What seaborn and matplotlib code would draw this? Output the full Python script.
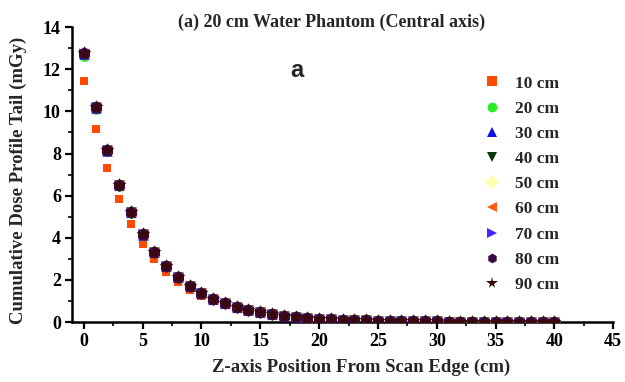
import matplotlib
matplotlib.use("Agg")
import matplotlib.pyplot as plt
import seaborn as sns
import pandas as pd
from matplotlib.ticker import MultipleLocator
from matplotlib.lines import Line2D

sns.set_style("ticks")
plt.rcParams['font.family'] = ['Liberation Serif', 'DejaVu Serif']
plt.rcParams['font.weight'] = 'bold'

z_pos = list(range(0, 41))

dose_10 = [11.45, 9.15, 7.30, 5.85, 4.65, 3.72, 2.97, 2.37, 1.90, 1.52, 1.22, 0.98, 0.79, 0.64,
           0.52, 0.42, 0.34, 0.28, 0.23, 0.19, 0.16, 0.13, 0.11, 0.09, 0.08, 0.07, 0.06, 0.05,
           0.045, 0.04, 0.035, 0.03, 0.028, 0.025, 0.022, 0.02, 0.018, 0.016, 0.015, 0.013, 0.012]
dose_20 = [12.65, 10.12, 8.10, 6.48, 5.18, 4.14, 3.31, 2.65, 2.12, 1.70, 1.36, 1.09, 0.88, 0.71,
           0.57, 0.46, 0.37, 0.30, 0.24, 0.20, 0.16, 0.13, 0.11, 0.09, 0.075, 0.063, 0.053, 0.045,
           0.038, 0.032, 0.027, 0.023, 0.020, 0.017, 0.015, 0.013, 0.011, 0.010, 0.009, 0.008, 0.007]
dose_30 = [12.72, 10.18, 8.14, 6.50, 5.20, 4.15, 3.32, 2.66, 2.12, 1.70, 1.36, 1.09, 0.88, 0.71,
           0.57, 0.46, 0.37, 0.30, 0.24, 0.20, 0.16, 0.13, 0.11, 0.09, 0.075, 0.063, 0.053, 0.045,
           0.038, 0.032, 0.027, 0.023, 0.020, 0.017, 0.015, 0.013, 0.011, 0.010, 0.009, 0.008, 0.007]
dose_40 = [12.74, 10.19, 8.15, 6.51, 5.20, 4.16, 3.32, 2.66, 2.13, 1.70, 1.36, 1.09, 0.88, 0.71,
           0.57, 0.46, 0.37, 0.30, 0.24, 0.20, 0.16, 0.13, 0.11, 0.09, 0.075, 0.063, 0.053, 0.045,
           0.038, 0.032, 0.027, 0.023, 0.020, 0.017, 0.015, 0.013, 0.011, 0.010, 0.009, 0.008, 0.007]
dose_50 = [12.75, 10.20, 8.15, 6.51, 5.21, 4.16, 3.33, 2.66, 2.13, 1.70, 1.37, 1.09, 0.88, 0.71,
           0.57, 0.46, 0.37, 0.30, 0.24, 0.20, 0.16, 0.13, 0.11, 0.09, 0.075, 0.063, 0.053, 0.045,
           0.038, 0.032, 0.027, 0.023, 0.020, 0.017, 0.015, 0.013, 0.011, 0.010, 0.009, 0.008, 0.007]
dose_60 = [12.76, 10.20, 8.16, 6.52, 5.21, 4.16, 3.33, 2.66, 2.13, 1.71, 1.37, 1.09, 0.88, 0.71,
           0.57, 0.46, 0.37, 0.30, 0.24, 0.20, 0.16, 0.13, 0.11, 0.09, 0.075, 0.063, 0.053, 0.045,
           0.038, 0.032, 0.027, 0.023, 0.020, 0.017, 0.015, 0.013, 0.011, 0.010, 0.009, 0.008, 0.007]
dose_70 = [12.76, 10.21, 8.16, 6.52, 5.21, 4.17, 3.33, 2.67, 2.13, 1.71, 1.37, 1.10, 0.88, 0.71,
           0.57, 0.46, 0.37, 0.30, 0.24, 0.20, 0.16, 0.13, 0.11, 0.09, 0.075, 0.063, 0.053, 0.045,
           0.038, 0.032, 0.027, 0.023, 0.020, 0.017, 0.015, 0.013, 0.011, 0.010, 0.009, 0.008, 0.007]
dose_80 = [12.77, 10.21, 8.16, 6.52, 5.22, 4.17, 3.33, 2.67, 2.13, 1.71, 1.37, 1.10, 0.88, 0.71,
           0.57, 0.46, 0.37, 0.30, 0.24, 0.20, 0.16, 0.13, 0.11, 0.09, 0.075, 0.063, 0.053, 0.045,
           0.038, 0.032, 0.027, 0.023, 0.020, 0.017, 0.015, 0.013, 0.011, 0.010, 0.009, 0.008, 0.007]
dose_90 = [12.77, 10.21, 8.17, 6.52, 5.22, 4.17, 3.34, 2.67, 2.13, 1.71, 1.37, 1.10, 0.88, 0.71,
           0.57, 0.46, 0.37, 0.30, 0.24, 0.20, 0.16, 0.13, 0.11, 0.09, 0.075, 0.063, 0.053, 0.045,
           0.038, 0.032, 0.027, 0.023, 0.020, 0.017, 0.015, 0.013, 0.011, 0.010, 0.009, 0.008, 0.007]

series_labels = ["10 cm", "20 cm", "30 cm", "40 cm", "50 cm", "60 cm", "70 cm", "80 cm", "90 cm"]
series_values = [dose_10, dose_20, dose_30, dose_40, dose_50, dose_60, dose_70, dose_80, dose_90]
markers = ["s", "o", "^", "v", "D", "<", ">", "h", "*"]
colors = ["#ff4a00", "#22ee22", "#1010ee", "#0a3a0a", "#ffffb0", "#ff5a10", "#4a20ff", "#3a0a40", "#3a0808"]
sizes = [38, 60, 55, 55, 38, 55, 55, 85, 115]

rows = []
for lab, vals in zip(series_labels, series_values):
    for z, d in zip(z_pos, vals):
        rows.append({"z": z, "dose": d, "series": lab})
df = pd.DataFrame(rows)

fig = plt.figure(figsize=(6.25, 3.82), dpi=100)
ax = fig.add_axes([0.1152, 0.157, 0.866, 0.772])

for lab, m, c, s in zip(series_labels, markers, colors, sizes):
    sub = df[df["series"] == lab]
    sns.scatterplot(data=sub, x="z", y="dose", marker=m, color=c, s=s, linewidth=0,
                    ax=ax, legend=False, zorder=3)

ax.set_xlim(-1, 45)
ax.set_ylim(0, 14)
ax.xaxis.set_major_locator(MultipleLocator(5))
ax.xaxis.set_minor_locator(MultipleLocator(2.5))
ax.yaxis.set_major_locator(MultipleLocator(2))
ax.yaxis.set_minor_locator(MultipleLocator(1))
sns.despine(ax=ax)
for sp in ["left", "bottom"]:
    ax.spines[sp].set_linewidth(1.8)
    ax.spines[sp].set_color("black")
ax.tick_params(which="major", length=5, width=1.6, direction="out", labelsize=13, pad=3, colors="black")
ax.tick_params(which="minor", length=3, width=1.4, direction="out")
for t in ax.get_xticklabels() + ax.get_yticklabels():
    t.set_fontweight("bold")

ax.set_xlabel("Z-axis Position From Scan Edge (cm)", fontsize=13.5, fontweight="bold")
ax.xaxis.set_label_coords(0.534, -0.125)
ax.set_ylabel("Cumulative Dose Profile Tail (mGy)", fontsize=13.5, fontweight="bold")
ax.yaxis.set_label_coords(-0.083, 0.48)
fig.text(332 / 625, 1 - 22 / 382, "(a) 20 cm Water Phantom (Central axis)", fontsize=13,
         fontweight="bold", ha="center", va="center")
ax.text(0.416, 0.854, "a", transform=ax.transAxes, fontsize=17, fontweight="bold",
        family=["Liberation Sans", "DejaVu Sans"], ha="center", va="center")

handles = [Line2D([], [], linestyle="none", marker=m, color=c, markersize=7 if m != "*" else 8.5,
                  markeredgewidth=0)
           for m, c in zip(markers, colors)]
leg = ax.legend(handles, series_labels, loc="upper left", bbox_to_anchor=(0.748, 0.86),
                frameon=False, prop={"weight": "bold", "size": 12.5}, handlelength=1.0,
                handletextpad=0.8, labelspacing=0.52, borderaxespad=0)

fig.savefig("out.png", dpi=100)
